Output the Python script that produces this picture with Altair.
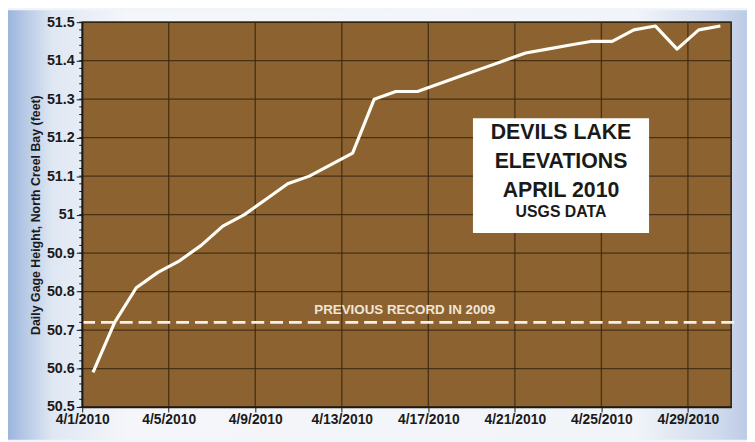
import altair as alt
import pandas as pd
import numpy as np

# ---------------- data ----------------
dates = ["4/1/2010", "4/2/2010", "4/3/2010", "4/4/2010", "4/5/2010", "4/6/2010",
         "4/7/2010", "4/8/2010", "4/9/2010", "4/10/2010", "4/11/2010", "4/12/2010",
         "4/13/2010", "4/14/2010", "4/15/2010", "4/16/2010", "4/17/2010", "4/18/2010",
         "4/19/2010", "4/20/2010", "4/21/2010", "4/22/2010", "4/23/2010", "4/24/2010",
         "4/25/2010", "4/26/2010", "4/27/2010", "4/28/2010", "4/29/2010", "4/30/2010"]
elevation = [50.59, 50.72, 50.81, 50.85, 50.88, 50.92, 50.97, 51.00, 51.04, 51.08,
             51.10, 51.13, 51.16, 51.30, 51.32, 51.32, 51.34, 51.36, 51.38, 51.40,
             51.42, 51.43, 51.44, 51.45, 51.45, 51.48, 51.49, 51.43, 51.48, 51.49]
x_tick_labels = ["4/1/2010", "4/5/2010", "4/9/2010", "4/13/2010", "4/17/2010",
                 "4/21/2010", "4/25/2010", "4/29/2010"]
x_domain = ["4/1/2010", "5/1/2010"]
y_ticks = [50.5, 50.6, 50.7, 50.8, 50.9, 51.0, 51.1, 51.2, 51.3, 51.4, 51.5]
record_level = 50.72
record_label = "PREVIOUS RECORD IN 2009"
title_lines = ["DEVILS LAKE", "ELEVATIONS", "APRIL 2010"]
subtitle = "USGS DATA"
y_title = "Daily Gage Height, North Creel Bay (feet)"

# ---------------- layout / style ----------------
W, H = 656, 389
FONT = "Liberation Sans"
BROWN = "#8c6330"
GRID = "#3a2810"
INK = "#1a1a1a"


def to_dt(s):
    m, d, y = [int(v) for v in s.split("/")]
    return alt.DateTime(year=y, month=m, date=d)


df = pd.DataFrame({
    "date": pd.to_datetime(dates, format="%m/%d/%Y") + pd.Timedelta(hours=12),
    "elev": elevation,
})
grid_x = pd.DataFrame({"date": pd.to_datetime(x_tick_labels, format="%m/%d/%Y")})
grid_y = pd.DataFrame({"elev": y_ticks})
minor_y = pd.DataFrame({"elev": np.round(np.arange(y_ticks[0], y_ticks[-1] + 1e-9, 0.02), 2)})
one = alt.Data(values=[{}])

x_scale = alt.Scale(domain=[to_dt(x_domain[0]), to_dt(x_domain[1])])
y_scale = alt.Scale(domain=[y_ticks[0], y_ticks[-1]], nice=False, zero=False)

x_axis = alt.Axis(values=[to_dt(s) for s in x_tick_labels], format="%-m/%-d/%Y",
                  title=None, grid=False, labelFont=FONT, labelFontSize=14,
                  labelFontWeight="bold", labelColor=INK, tickSize=5,
                  tickColor=INK, domainColor=INK, domainWidth=1.5,
                  labelPadding=1, labelFlush=False, labelOverlap=False, zindex=1)
y_axis = alt.Axis(values=y_ticks, format="~g", title=y_title, grid=False,
                  labelFont=FONT, labelFontSize=14.5, labelFontWeight="bold",
                  labelColor=INK, tickSize=6, tickColor=INK,
                  domainColor=INK, domainWidth=1.5, labelPadding=2,
                  titleFont=FONT, titleFontSize=12.5, titleFontWeight="bold",
                  titleColor=INK, titleX=-47, titleY=H / 2,
                  titleAngle=270, titleAlign="center", titleBaseline="middle",
                  labelOverlap=False, labelFlush=False, zindex=1)

X = alt.X("date:T", scale=x_scale, axis=x_axis)
Y = alt.Y("elev:Q", scale=y_scale, axis=y_axis)

gradient = alt.Gradient(
    gradient="linear", x1=0, x2=1, y1=0, y2=0,
    stops=[alt.GradientStop(offset=0, color="#9db6dd"),
           alt.GradientStop(offset=0.06, color="#dfe7f3"),
           alt.GradientStop(offset=0.16, color="#f4f6fa"),
           alt.GradientStop(offset=0.85, color="#f1f4f9"),
           alt.GradientStop(offset=0.96, color="#cfdaec"),
           alt.GradientStop(offset=1, color="#bccbe6")])

bg = alt.Chart(one).mark_rect(color=gradient).encode(
    x=alt.value(-75), x2=alt.value(W + 16), y=alt.value(-12), y2=alt.value(H + 33))

plot_bg = alt.Chart(one).mark_rect(fill=BROWN, stroke="#2b1e10", strokeWidth=1.5).encode(
    x=alt.value(0), x2=alt.value(W), y=alt.value(0), y2=alt.value(H))

vgrid = alt.Chart(grid_x).mark_rule(color=GRID, strokeWidth=1.3, opacity=0.85).encode(x=X)

hgrid = alt.Chart(grid_y).mark_rule(color=GRID, strokeWidth=1.3, opacity=0.85).encode(y=Y)

minor = alt.Chart(minor_y).mark_rule(color=INK, strokeWidth=1).encode(
    y=Y, x=alt.value(-3), x2=alt.value(0))

record = alt.Chart(one).mark_rule(color="#f6f0e6", strokeWidth=3, strokeDash=[13, 6]).encode(
    y=alt.YDatum(datum=record_level, type="quantitative", scale=y_scale, axis=y_axis),
    x=alt.value(0), x2=alt.value(W + 9))

record_text = alt.Chart(one).mark_text(
    font=FONT, fontSize=13.5, fontWeight="bold", color="#efe6d8", align="center", baseline="middle"
).encode(text=alt.value(record_label), x=alt.value(326), y=alt.value(291))

line = alt.Chart(df).mark_line(color="#fffdf6", strokeWidth=3.2, strokeJoin="round").encode(
    x=X, y=Y)

box = alt.Chart(one).mark_rect(fill="white").encode(
    x=alt.value(395), x2=alt.value(573), y=alt.value(97), y2=alt.value(213))

box_title = alt.Chart(one).mark_text(
    font=FONT, fontSize=21.5, fontWeight="bold", color=INK, align="center",
    baseline="middle", lineHeight=29.5
).encode(text=alt.value(title_lines), x=alt.value(484), y=alt.value(112))

box_sub = alt.Chart(one).mark_text(
    font=FONT, fontSize=16, fontWeight="bold", color=INK, align="center", baseline="middle"
).encode(text=alt.value(subtitle), x=alt.value(484), y=alt.value(192))

chart = alt.layer(bg, plot_bg, vgrid, hgrid, minor, record, record_text, line, box, box_title,
                  box_sub).properties(
    width=W, height=H,
    padding={"left": 75, "top": 12, "right": 16, "bottom": 33},
    autosize=alt.AutoSizeParams(type="none"),
).configure_view(stroke=None).configure_axis(labelOverlap=False).configure(background="#f1f4f9")

chart.save("out.html", embed_options={"renderer": "svg", "actions": False})
